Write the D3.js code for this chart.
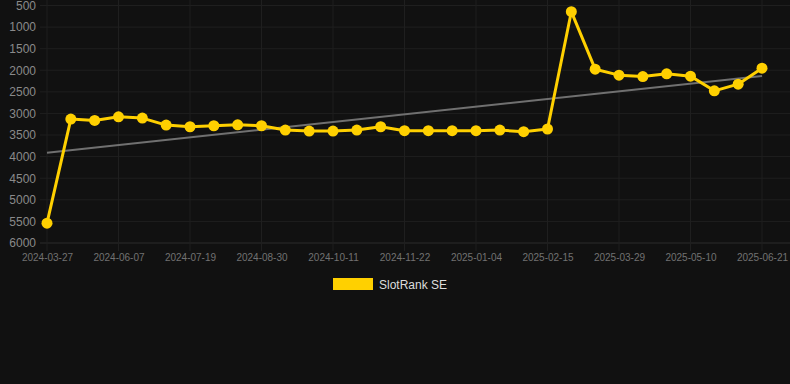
<!DOCTYPE html>
<html><head><meta charset="utf-8">
<script src="https://cdn.jsdelivr.net/npm/d3@7"></script>
<style>html,body{margin:0;padding:0;background:#111111;}svg{display:block;}</style>
</head><body>
<svg id="c" width="790" height="384"></svg>
<script>
const categories = ["2024-03-27","2024-05-10","2024-05-24","2024-06-07","2024-06-21","2024-07-05","2024-07-19","2024-08-02","2024-08-16","2024-08-30","2024-09-13","2024-09-27","2024-10-11","2024-10-25","2024-11-08","2024-11-22","2024-12-06","2024-12-21","2025-01-04","2025-01-18","2025-02-01","2025-02-15","2025-03-01","2025-03-15","2025-03-29","2025-04-12","2025-04-26","2025-05-10","2025-05-24","2025-06-07","2025-06-21"];
const rankValues = [5540,3130,3162,3077,3107,3269,3308,3285,3262,3285,3385,3408,3408,3385,3308,3400,3400,3400,3400,3385,3423,3360,643,1975,2113,2145,2083,2136,2476,2322,1952];
const trendValues = [3910, 2130];
const yTicks = [500,1000,1500,2000,2500,3000,3500,4000,4500,5000,5500,6000];
const seriesName = "SlotRank SE";

const svg = d3.select("#c");
const x = d3.scalePoint().domain(categories).range([47, 762]);
const y = d3.scaleLinear().domain([500, 6000]).range([5.5, 243]);
const font = "Arial, 'Liberation Sans', sans-serif";

// horizontal grid
svg.append("g").selectAll("line").data(yTicks).join("line")
  .attr("x1", 40).attr("x2", 790)
  .attr("y1", d => y(d)).attr("y2", d => y(d))
  .attr("stroke", d => d === 6000 ? "#2c2c2c" : "#1f1f1f").attr("stroke-width", 1);

// vertical grid at shown labels
const shown = categories.filter((d, i) => i % 3 === 0);
svg.append("g").selectAll("line").data(shown).join("line")
  .attr("x1", d => x(d)).attr("x2", d => x(d))
  .attr("y1", 0).attr("y2", 251)
  .attr("stroke", "#1f1f1f").attr("stroke-width", 1);

// y axis labels
const yAxis = d3.axisLeft(y).tickValues(yTicks).tickFormat(d3.format("d")).tickSize(0).tickPadding(0);
const gy = svg.append("g").attr("transform", "translate(36,0)").call(yAxis);
gy.select(".domain").remove();
gy.selectAll("text").attr("fill", "#8a8a8a").style("font", "12px " + font);

// x axis labels
const xAxis = d3.axisBottom(x).tickValues(shown).tickSize(0).tickPadding(0);
const gx = svg.append("g").attr("transform", "translate(0,254)").call(xAxis);
gx.select(".domain").remove();
gx.selectAll("text").attr("fill", "#727272").style("font", "10px " + font);

// trend line
svg.append("line")
  .attr("x1", x(categories[0])).attr("x2", x(categories[categories.length-1]))
  .attr("y1", y(trendValues[0])).attr("y2", y(trendValues[1]))
  .attr("stroke", "#707070").attr("stroke-width", 2);

// main line
const line = d3.line().x((d,i) => x(categories[i])).y(d => y(d));
svg.append("path").datum(rankValues).attr("d", line)
  .attr("fill", "none").attr("stroke", "#FFD000").attr("stroke-width", 3)
  .attr("stroke-linejoin", "round");
svg.append("g").selectAll("circle").data(rankValues).join("circle")
  .attr("cx", (d,i) => x(categories[i])).attr("cy", d => y(d)).attr("r", 5.5)
  .attr("fill", "#FFD000");

// legend
svg.append("rect").attr("x", 333).attr("y", 278).attr("width", 40).attr("height", 12).attr("fill", "#FFD000");
svg.append("text").attr("x", 379).attr("y", 289).text(seriesName)
  .attr("fill", "#dddddd").style("font", "12px " + font);
</script>
</body></html>
